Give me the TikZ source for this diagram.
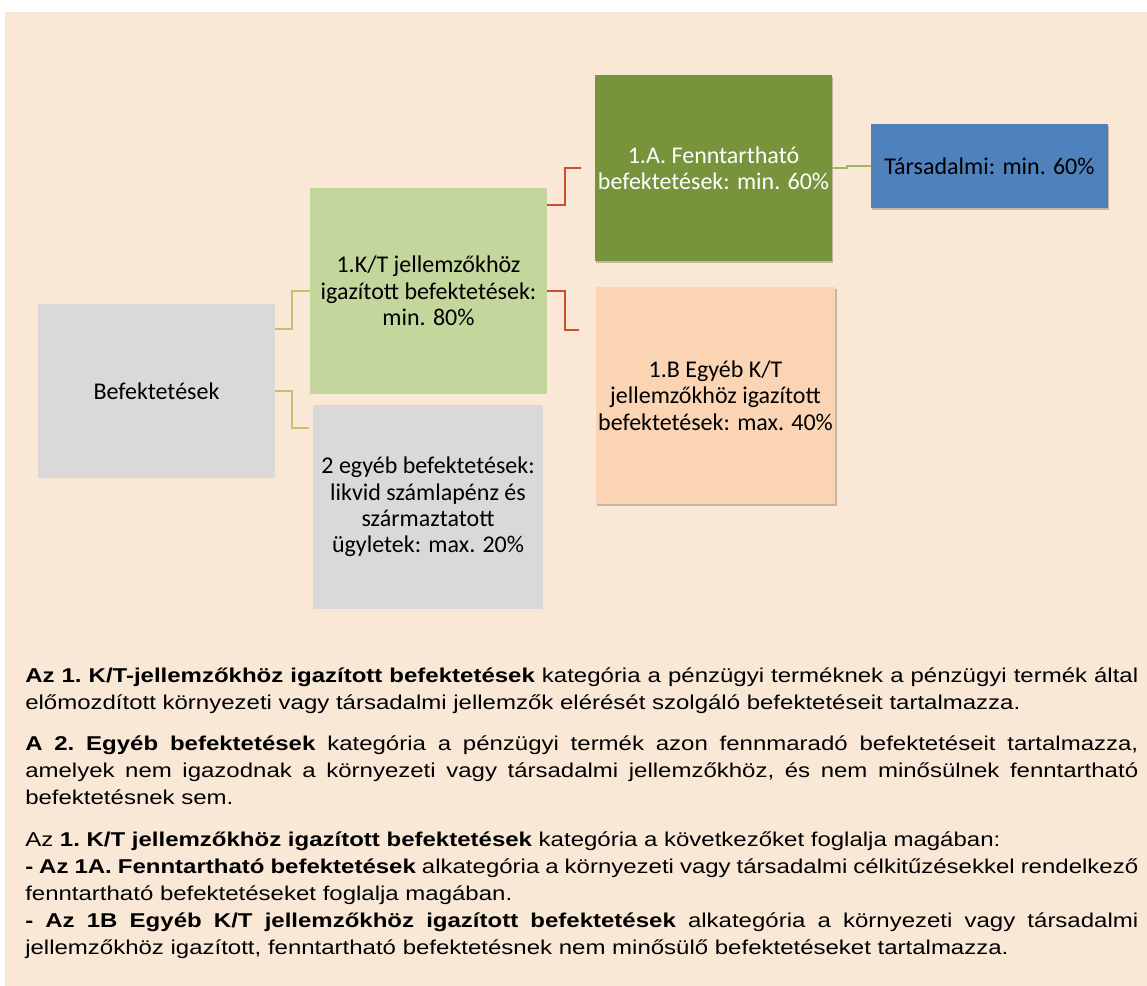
\documentclass[tikz,border=0pt]{standalone}
\usepackage{fontspec}
\setmainfont{Liberation Sans}[FakeStretch=1.2]
\newfontfamily\boxfont{Carlito}
\usetikzlibrary{positioning,calc,shadows}
\definecolor{bgpeach}{HTML}{FAE8D7}
\definecolor{boxgray}{HTML}{D9D9D9}
\definecolor{ktgreen}{HTML}{C3D69B}
\definecolor{fagreen}{HTML}{77933C}
\definecolor{ebpeach}{HTML}{FBD4B4}
\definecolor{tarsblue}{HTML}{4F81BD}
\definecolor{linekhaki}{HTML}{CABD78}
\definecolor{linered}{HTML}{CD4E2B}
\definecolor{linegreen}{HTML}{9BBB59}
\tikzset{
  catbox/.style 2 args={inner sep=2pt, align=center, minimum width=#1*0.75pt, minimum height=#2*0.75pt,
    font=\boxfont\fontsize{18pt}{19.7pt}\selectfont},
  boxshadow/.style={drop shadow={shadow xshift=0.8pt, shadow yshift=-1.6pt, fill=black, opacity=0.22}},
  elbow/.style={line width=1.6pt}
}

\begin{document}
\begin{tikzpicture}[x=0.75pt,y=-0.75pt]
\useasboundingbox (0,0) rectangle (1147,986);
\fill [bgpeach] (5,12) rectangle (1147,986);

\node[catbox={237}{174}, fill=boxgray] (bef) at (156.5,391) {Befektetések};
\node[catbox={237}{206}, fill=ktgreen] (kt) at (428.5,291) {1.K/T jellemzőkhöz\\igazított befektetések:\\min. 80\%};
\node[catbox={230}{204}, fill=boxgray] (egy) at (428,507) {2 egyéb befektetések:\\likvid számlapénz és\\származtatott\\ügyletek: max. 20\%};
\node[catbox={237}{186}, fill=fagreen, text=white, boxshadow] (fenn) at (713.5,168) {1.A. Fenntartható\\befektetések: min. 60\%};
\node[catbox={237}{217}, fill=ebpeach, boxshadow] (kteb) at (715.5,395.5) {1.B Egyéb K/T\\jellemzőkhöz igazított\\befektetések: max. 40\%};
\node[catbox={237}{84}, fill=tarsblue, boxshadow] (tars) at (989.5,166) {Társadalmi: min. 60\%};

\draw [elbow, linekhaki] ($(bef.east)+(0,-62)$) -- ++(17,0) |- (kt.west);
\draw [elbow, linekhaki] (bef.east) -- ++(17,0) |- ($(egy.north west)+(-4,23)$);
\draw [elbow, linered] ($(kt.east)+(0,-86)$) -- ++(18,0) |- ($(fenn.west)+(-14,0)$);
\draw [elbow, linered] (kt.east) -- ++(18,0) |- ($(kteb.north west)+(-16,43)$);
\draw [elbow, linegreen] (fenn.east) -- ++(15,0) |- (tars.west);

\node[anchor=base west, inner sep=0, text width=1113*0.75pt, align=justify,
      font=\fontsize{15pt}{20.25pt}\selectfont] (txt) at (25,682.3)
{\setlength{\parskip}{10.8pt}\hyphenpenalty=10000\frenchspacing
\textbf{Az 1. K/T-jellemzőkhöz igazított befektetések} kategória a pénzügyi terméknek a pénzügyi termék által\linebreak
előmozdított környezeti vagy társadalmi jellemzők elérését szolgáló befektetéseit tartalmazza.\par
\textbf{A 2. Egyéb befektetések} kategória a pénzügyi termék azon fennmaradó befektetéseit tartalmazza,\linebreak
amelyek nem igazodnak a környezeti vagy társadalmi jellemzőkhöz, és nem minősülnek fenntartható\linebreak
befektetésnek sem.\par
Az \textbf{1. K/T jellemzőkhöz igazított befektetések} kategória a következőket foglalja magában:\\
\textbf{- Az 1A. Fenntartható befektetések} alkategória a környezeti vagy társadalmi célkitűzésekkel rendelkező\linebreak
fenntartható befektetéseket foglalja magában.\\
\textbf{- Az 1B Egyéb K/T jellemzőkhöz igazított befektetések} alkategória a környezeti vagy társadalmi\linebreak
jellemzőkhöz igazított, fenntartható befektetésnek nem minősülő befektetéseket tartalmazza.\par};
\end{tikzpicture}
\end{document}
